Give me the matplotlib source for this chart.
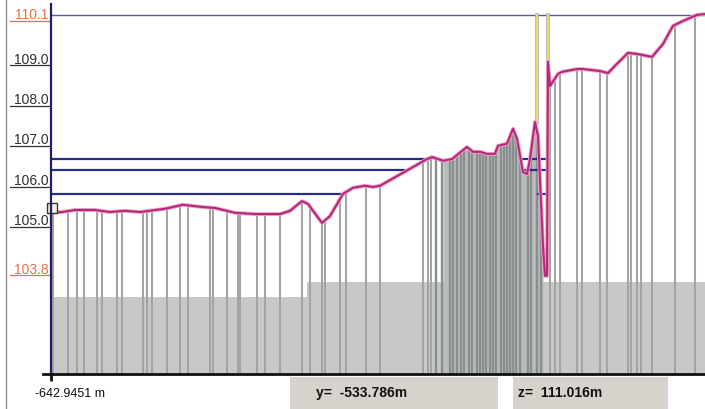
import numpy as np
import matplotlib.pyplot as plt
from matplotlib.lines import Line2D
from matplotlib.patches import Rectangle

plt.rcParams['font.family'] = ['Liberation Sans', 'DejaVu Sans']

# profile along section (distance from left edge, elevation)
dist = [0, 11, 24, 44, 59, 74, 89, 114, 132, 149, 164, 184, 204, 229, 239, 251, 257,
        271, 279, 292, 302, 314, 322, 329, 376, 381, 392, 401, 416, 422, 429, 436,
        444, 447, 456, 462, 466, 472, 476, 479, 484, 487, 492, 494, 496, 497, 499,
        507, 511, 526, 532, 549, 557, 566, 577, 587, 601, 612, 622, 632, 646, 654]
elev = [105.20, 105.22, 105.27, 105.27, 105.22, 105.25, 105.22, 105.30, 105.40, 105.35,
        105.32, 105.20, 105.17, 105.17, 105.25, 105.49, 105.42, 104.95, 105.12, 105.67,
        105.82, 105.87, 105.84, 105.87, 106.53, 106.58, 106.49, 106.53, 106.83, 106.71,
        106.71, 106.66, 106.66, 106.86, 106.91, 107.28, 107.03, 106.21, 106.16, 106.53,
        107.45, 107.10, 104.38, 103.64, 103.64, 108.94, 108.34, 108.64, 108.69, 108.76,
        108.76, 108.71, 108.66, 108.89, 109.16, 109.13, 109.06, 109.38, 109.83, 109.95,
        110.10, 110.12]

# drill holes
holes_sparse = [2, 17, 26, 33, 46, 51, 66, 71, 92, 96, 101, 116, 129, 137, 159, 162,
                176, 187, 189, 206, 214, 229, 251, 259, 271, 274, 289, 295, 315, 329,
                372, 377, 380, 499, 504, 509, 526, 531, 549, 556, 577, 580, 586, 590,
                601, 624, 644]
holes_dense = [385, 391, 399, 402, 406, 410, 413, 418, 421, 426, 429, 432, 435, 439,
               442, 445, 450, 453, 456, 459, 462, 465, 469, 477, 480, 486, 490]

# benches: level, left segment end, right segment
bench_levels = [106.53, 106.26, 105.67]
bench_left_end = [376, 353, 292]
bench_right = [(472, 497), (472, 497), (487, 497)]

band_split = 256
band_tops = [103.12, 103.49]
cursor_x = [486, 497]
cursor_bottom = [107.45, 108.94]

ytick_vals = [110.1, 109.0, 108.0, 107.0, 106.0, 105.0, 103.8]
ytick_labels = ['110.1', '109.0', '108.0', '107.0', '106.0', '105.0', '103.8']
ytick_cols = ['#e8704a', '#303030', '#303030', '#303030', '#303030', '#303030', '#e8704a']

ybot, ytop = 101.21, 110.37
ztop = 110.1
xmax = 654

fig = plt.figure(figsize=(7.05, 4.1), dpi=100)
ax = fig.add_axes([51 / 705, 35 / 410, 654 / 705, 370 / 410])
ax.set_xlim(0, xmax)
ax.set_ylim(ybot, ytop)

# gray band at the bottom
ax.add_patch(Rectangle((0, ybot), band_split, band_tops[0] - ybot, color='#c8c8c8', lw=0, zorder=1))
ax.add_patch(Rectangle((band_split, ybot), xmax - band_split, band_tops[1] - ybot,
                       color='#c8c8c8', lw=0, zorder=1))

# dense region background
d = np.array(dist)
mask = (d >= 383) & (d <= 492)
ax.fill_between(d[mask], ybot, np.array(elev)[mask], color='#b8bcbc', lw=0, zorder=1.5)

ax.vlines(holes_sparse, ybot, ztop, color='#a4a4a4', lw=1.5, zorder=2)
ax.vlines(holes_dense, ybot, ztop, color='#8a8e8e', lw=1.7, zorder=2)

# blank out above the ground line
ax.fill_between(dist, elev, ytop, color='white', lw=0, zorder=3)

# benches
for lev, xe, (r0, r1) in zip(bench_levels, bench_left_end, bench_right):
    ax.plot([0, xe], [lev, lev], color='#2b2b85', lw=1.6, zorder=4)
    ax.plot([r0, r1], [lev, lev], color='#2b2b85', lw=1.6, zorder=4)

ax.axhline(ztop, color='#5a5a9a', lw=1.0, zorder=4)

# cursors
for cx, cb in zip(cursor_x, cursor_bottom):
    ax.plot([cx, cx], [ztop, cb], color='#b0b0a0', lw=2.6, zorder=5)
    ax.plot([cx, cx], [ztop, cb], color='#e6e070', lw=1.4, zorder=5)

ax.plot(dist, elev, color='#f0a0c8', lw=2.8, zorder=6, clip_on=False)
ax.plot(dist, elev, color='#b42a78', lw=1.5, zorder=6, clip_on=False)

# small marker box at start
ax.plot([1], [105.32], marker='s', ms=7, mfc='#f4f4dc', mec='#333333', mew=1.0,
        zorder=7, clip_on=False)

# spines
for s in ['top', 'right']:
    ax.spines[s].set_visible(False)
ax.spines['left'].set_color('#1e1e70')
ax.spines['left'].set_linewidth(1.6)
ax.spines['left'].set_zorder(8)
ax.spines['bottom'].set_color('#111111')
ax.spines['bottom'].set_linewidth(2.0)
ax.spines['bottom'].set_zorder(8)
ax.set_xticks([0])
ax.set_xticklabels([''])
ax.tick_params(axis='x', direction='out', length=5, width=2, color='#111111')
ax.set_yticks([])

# y labels with underline
ytr = ax.get_yaxis_transform()
for v, lab, c in zip(ytick_vals, ytick_labels, ytick_cols):
    ax.text(-0.004, v + 0.02, lab, transform=ytr, ha='right', va='center',
            fontsize=10, color=c, clip_on=False)
    ax.add_line(Line2D([-0.062, -0.003], [v - 0.15, v - 0.15], transform=ytr,
                       color=c, lw=0.9, clip_on=False))

# extend bottom axis line to the left
fig.add_artist(Line2D([43 / 705, 52 / 705], [1 - 375 / 410, 1 - 375 / 410],
                      color='#111111', lw=2.0))
# outer frame line on the left
fig.add_artist(Line2D([6 / 705, 6 / 705], [0, 1], color='#909090', lw=1.0))

# bottom info
fig.text(35 / 705, 1 - 394 / 410, '-642.9451 m', fontsize=9, color='#111111',
         va='center', ha='left')
fig.add_artist(Rectangle((290 / 705, 0), 208 / 705, 1 - 378 / 410,
                         transform=fig.transFigure, color='#d6d3cc', lw=0))
fig.add_artist(Rectangle((513 / 705, 0), 155 / 705, 1 - 378 / 410,
                         transform=fig.transFigure, color='#d6d3cc', lw=0))
fig.text(316 / 705, 1 - 393 / 410, 'y=  -533.786m', fontsize=10, fontweight='bold',
         color='#111111', va='center', ha='left')
fig.text(518 / 705, 1 - 393 / 410, 'z=  111.016m', fontsize=10, fontweight='bold',
         color='#111111', va='center', ha='left')

fig.savefig('out.png', dpi=100)
